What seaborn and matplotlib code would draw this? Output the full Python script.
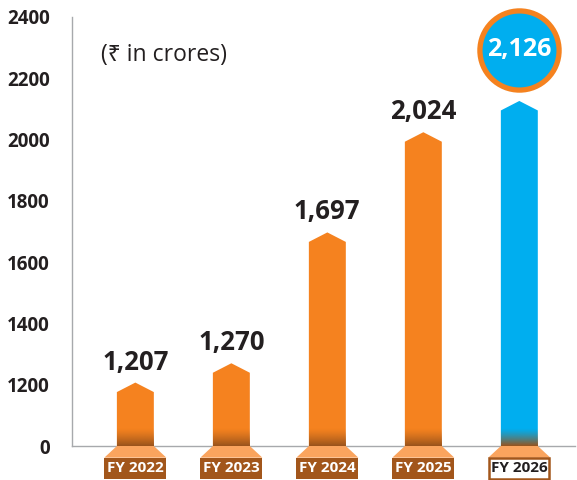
import numpy as np
import pandas as pd
import matplotlib
matplotlib.use('Agg')
import matplotlib.pyplot as plt
from matplotlib.patches import Polygon, Rectangle
from matplotlib.transforms import offset_copy
from matplotlib.colors import to_rgb
import seaborn as sns

# data
years = ["FY 2022", "FY 2023", "FY 2024", "FY 2025", "FY 2026"]
revenue = [1207, 1270, 1697, 2024, 2126]
value_labels = ["1,207", "1,270", "1,697", "2,024", "2,126"]
y_ticks = [1000, 1200, 1400, 1600, 1800, 2000, 2200, 2400]
y_tick_labels = ["0", "1200", "1400", "1600", "1800", "2000", "2200", "2400"]

ORANGE = "#F5821F"
BLUE = "#00AEEF"
LIGHT = "#FAA45E"
BROWN = "#A2561B"
DARK = "#98531C"
TEXT = "#231F20"
GREY = "#A7A9AC"
bar_colors = [ORANGE, ORANGE, ORANGE, ORANGE, BLUE]

sns.set_theme(style="white")
plt.rcParams['font.family'] = ['Open Sans', 'Noto Sans', 'DejaVu Sans']

fig = plt.figure(figsize=(5.77, 4.8), dpi=100)
ax = fig.add_axes([72 / 577, 34 / 480, 503 / 577, 429 / 480])

df = pd.DataFrame({"year": years, "value": revenue})
sns.barplot(data=df, x="year", y="value", hue="year", palette=bar_colors,
            width=0.385, saturation=1, legend=False, ax=ax)

y0 = 1000          # the broken axis: "0" sits where 1000 would be
roof = 31          # drop from peak to shoulder
base_w = 0.646     # width of label boxes
fade = 58          # height of the dark fade at the foot

bars = list(ax.patches[:len(years)])
for i, p in enumerate(bars):
    x0, w, top = p.get_x(), p.get_width(), p.get_height()
    x1, xc = x0 + w, x0 + w / 2
    p.set_visible(False)
    # bar body with a pointed roof
    ax.add_patch(Polygon([(x0, y0), (x0, top - roof), (xc, top), (x1, top - roof), (x1, y0)],
                         closed=True, facecolor=bar_colors[i], edgecolor="none",
                         joinstyle="miter", zorder=2))

    # darker fade at the foot of the bar (row 0 = bottom)
    t = np.linspace(1, 0, 80) ** 1.3
    grad = np.zeros((80, 1, 4))
    grad[:, 0, :3] = to_rgb(DARK)
    grad[:, 0, 3] = t
    ax.imshow(grad, extent=[x0, x1, y0, y0 + fade], origin="lower", aspect="auto",
              interpolation="bilinear", zorder=2.1)

    # plinth under the axis
    ax.add_patch(Polygon([(x0, y0), (x1, y0), (xc + base_w / 2, y0 - 38), (xc - base_w / 2, y0 - 38)],
                         closed=True, facecolor=LIGHT, edgecolor="none", clip_on=False, zorder=2))
    last = i == len(years) - 1
    ax.add_patch(Rectangle((xc - base_w / 2 + (0.01 if last else 0), y0 - 109),
                           base_w - (0.02 if last else 0), 71,
                           facecolor="white" if last else BROWN,
                           edgecolor=BROWN, linewidth=1.8 if last else 0,
                           clip_on=False, zorder=2))
    ax.text(xc, y0 - 73, years[i], ha="center", va="center", fontsize=11, fontweight="bold",
            color=TEXT if last else "white", clip_on=False, zorder=3)

    if not last:
        ax.annotate(value_labels[i], (xc, top), xytext=(0, 5), textcoords="offset points",
                    ha="center", va="bottom", fontsize=18.5, fontweight="bold", color=TEXT)
    else:
        tr = offset_copy(ax.transData, fig=fig, y=51, units="dots")
        ax.plot([xc], [top], marker="o", ms=57, mfc=BLUE, mec=ORANGE, mew=3.8,
                transform=tr, clip_on=False, zorder=4)
        ax.text(xc, top, value_labels[i], transform=tr, ha="center", va="center",
                fontsize=18, fontweight="bold", color="white", zorder=5)

ax.set_xlim(-0.66, 4.58)
ax.set_ylim(1000, 2400)
ax.set_yticks(y_ticks, y_tick_labels)
ax.set_xticks([])
ax.set_xlabel("")
ax.set_ylabel("")
ax.tick_params(axis="y", length=0, pad=16, labelsize=13.5, labelcolor=TEXT)
for lab in ax.get_yticklabels():
    lab.set_fontweight("bold")

sns.despine(ax=ax, top=True, right=True)
for side in ["left", "bottom"]:
    ax.spines[side].set_color(GREY)
    ax.spines[side].set_linewidth(1.0)
    ax.spines[side].set_zorder(1)

fig.text(101 / 577, 1 - 55 / 480, "(₹ in crores)", ha="left", va="center", fontsize=16.5, color=TEXT)

fig.savefig("out.png", dpi=100)
